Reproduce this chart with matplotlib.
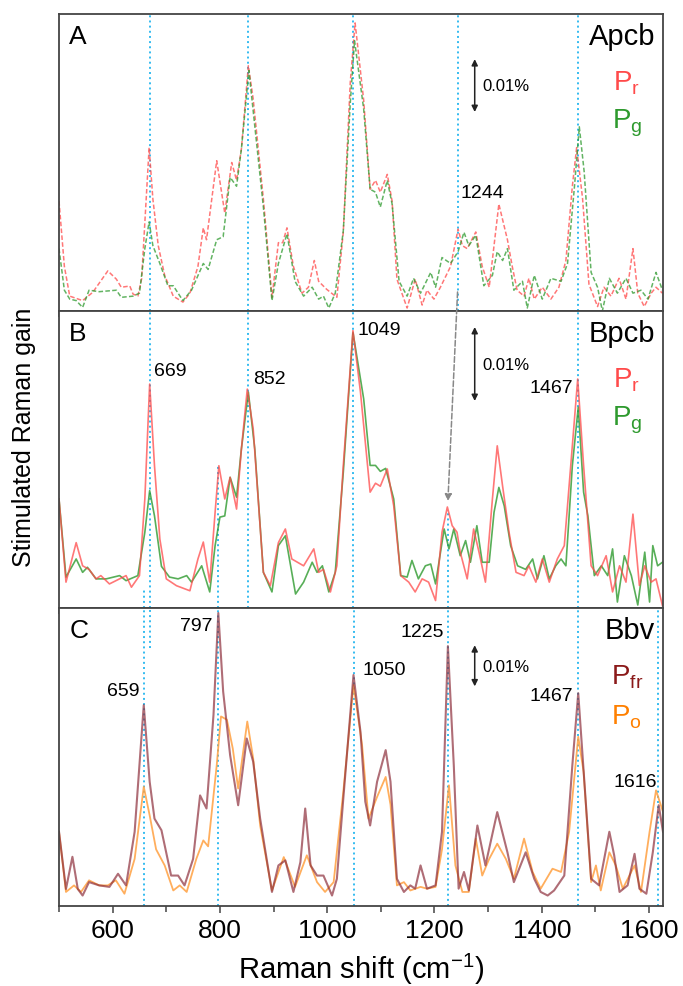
import matplotlib.pyplot as plt
from matplotlib.ticker import MultipleLocator

plt.rcParams['font.family'] = ['Liberation Sans', 'DejaVu Sans']
plt.rcParams['mathtext.fontset'] = 'custom'
plt.rcParams['mathtext.rm'] = 'Liberation Sans'
plt.rcParams['mathtext.it'] = 'Liberation Sans'

# ---- panel A (Apcb), dashed ----
a_pr_x = [500, 510, 520, 544, 563, 591, 607, 616, 632, 638, 647, 654, 668, 675, 685, 697, 713,
          731, 744, 759, 769, 775, 794, 809, 822, 831, 840, 853, 862, 881, 897, 909, 917, 925,
          937, 953, 965, 976, 984, 999, 1018, 1030, 1043, 1052, 1068, 1080, 1090, 1099, 1112,
          1121, 1130, 1149, 1164, 1177, 1186, 1199, 1211, 1230, 1244, 1252, 1261, 1277, 1289,
          1302, 1320, 1336, 1345, 1354, 1367, 1376, 1386, 1401, 1417, 1432, 1445, 1457, 1465,
          1476, 1488, 1504, 1516, 1529, 1544, 1557, 1570, 1579, 1591, 1604, 1613, 1625]
a_pr_y = [0.37, 0.15, 0.05, 0.035, 0.063, 0.135, 0.107, 0.08, 0.084, 0.057, 0.05, 0.108, 0.55,
          0.377, 0.22, 0.12, 0.05, 0.03, 0.06, 0.15, 0.28, 0.24, 0.506, 0.33, 0.50, 0.44, 0.545,
          0.826, 0.714, 0.377, 0.046, 0.23, 0.23, 0.28, 0.15, 0.06, 0.08, 0.17, 0.10, 0.073,
          0.046, 0.266, 0.77, 0.97, 0.71, 0.41, 0.44, 0.40, 0.46, 0.37, 0.107, 0.01, 0.107, 0.02,
          0.07, 0.04, 0.08, 0.15, 0.276, 0.22, 0.21, 0.266, 0.15, 0.08, 0.36, 0.24, 0.15, 0.07,
          0.05, 0.11, 0.04, 0.08, 0.04, 0.08, 0.17, 0.42, 0.55, 0.38, 0.09, 0.015, 0.08, 0.05,
          0.11, 0.04, 0.21, 0.06, 0.015, 0.06, 0.08, 0.06]
a_pg_x = [500, 510, 520, 532, 544, 556, 575, 607, 616, 638, 650, 660, 668, 675, 688, 703, 713,
          722, 731, 747, 769, 778, 794, 806, 819, 831, 840, 854, 881, 897, 909, 925, 940, 956,
          972, 984, 993, 1003, 1015, 1030, 1043, 1051, 1068, 1080, 1090, 1099, 1112, 1121, 1134,
          1149, 1161, 1174, 1193, 1202, 1214, 1230, 1244, 1255, 1264, 1277, 1292, 1308, 1317,
          1327, 1336, 1348, 1364, 1373, 1386, 1401, 1417, 1436, 1448, 1461, 1470, 1479, 1492,
          1504, 1513, 1526, 1541, 1557, 1570, 1585, 1598, 1613, 1625]
a_pg_y = [0.21, 0.07, 0.04, 0.035, 0.012, 0.07, 0.065, 0.07, 0.046, 0.05, 0.06, 0.21, 0.30, 0.22,
          0.16, 0.085, 0.085, 0.06, 0.035, 0.07, 0.16, 0.14, 0.24, 0.25, 0.45, 0.42, 0.545, 0.81,
          0.35, 0.035, 0.16, 0.26, 0.10, 0.05, 0.08, 0.04, 0.05, 0.01, 0.06, 0.27, 0.70, 0.91,
          0.68, 0.41, 0.40, 0.35, 0.44, 0.36, 0.10, 0.05, 0.11, 0.06, 0.13, 0.08, 0.18, 0.16,
          0.20, 0.265, 0.22, 0.255, 0.085, 0.12, 0.20, 0.17, 0.21, 0.07, 0.10, 0.01, 0.12, 0.04,
          0.11, 0.10, 0.16, 0.42, 0.62, 0.47, 0.13, 0.08, 0.0, 0.11, 0.06, 0.11, 0.06, 0.07, 0.04,
          0.13, 0.07]

# ---- panel B (Bpcb), solid ----
b_pr_x = [500, 513, 532, 544, 556, 569, 578, 594, 625, 635, 650, 660, 669, 678, 688, 700, 719,
          744, 759, 769, 781, 791, 798, 809, 819, 831, 840, 851, 862, 881, 894, 909, 922, 934,
          956, 975, 984, 993, 1006, 1018, 1030, 1048, 1062, 1080, 1090, 1099, 1112, 1124, 1137,
          1152, 1164, 1177, 1189, 1202, 1214, 1224, 1233, 1242, 1248, 1261, 1273, 1283, 1295,
          1308, 1317, 1327, 1339, 1352, 1367, 1376, 1389, 1401, 1414, 1429, 1442, 1454, 1467,
          1478, 1492, 1504, 1520, 1532, 1545, 1557, 1570, 1582, 1592, 1604, 1613, 1625]
b_pr_y = [0.367, 0.087, 0.22, 0.142, 0.13, 0.098, 0.109, 0.081, 0.109, 0.07, 0.109, 0.367, 0.754,
          0.479, 0.232, 0.098, 0.075, 0.058, 0.165, 0.222, 0.087, 0.322, 0.479, 0.367, 0.44,
          0.333, 0.535, 0.737, 0.603, 0.12, 0.075, 0.22, 0.266, 0.165, 0.142, 0.199, 0.12, 0.13,
          0.054, 0.142, 0.48, 0.934, 0.727, 0.39, 0.42, 0.41, 0.468, 0.344, 0.109, 0.087, 0.054,
          0.098, 0.087, 0.025, 0.255, 0.34, 0.277, 0.255, 0.188, 0.098, 0.266, 0.188, 0.087,
          0.367, 0.546, 0.41, 0.255, 0.12, 0.109, 0.142, 0.087, 0.165, 0.087, 0.165, 0.21, 0.479,
          0.771, 0.479, 0.142, 0.109, 0.176, 0.054, 0.142, 0.087, 0.316, 0.076, 0.142, 0.087,
          0.098, 0.008]
b_pg_x = [500, 513, 532, 544, 553, 569, 588, 613, 625, 647, 660, 669, 678, 691, 706, 722, 738,
          747, 766, 781, 791, 800, 809, 819, 831, 840, 853, 865, 881, 897, 909, 922, 941, 956,
          972, 981, 991, 1003, 1015, 1030, 1048, 1068, 1080, 1090, 1099, 1109, 1124, 1137, 1149,
          1158, 1170, 1183, 1193, 1202, 1218, 1227, 1236, 1248, 1258, 1267, 1279, 1289, 1302,
          1311, 1320, 1330, 1342, 1355, 1370, 1383, 1392, 1404, 1414, 1426, 1436, 1445, 1457,
          1468, 1478, 1486, 1498, 1511, 1523, 1532, 1541, 1554, 1567, 1579, 1592, 1601, 1607,
          1616, 1625]
b_pg_y = [0.367, 0.104, 0.165, 0.12, 0.137, 0.098, 0.098, 0.109, 0.092, 0.109, 0.255, 0.395,
          0.31, 0.14, 0.104, 0.098, 0.109, 0.087, 0.142, 0.054, 0.21, 0.306, 0.31, 0.44, 0.373,
          0.535, 0.727, 0.535, 0.12, 0.054, 0.21, 0.243, 0.047, 0.087, 0.154, 0.12, 0.142, 0.054,
          0.12, 0.457, 0.928, 0.704, 0.48, 0.48, 0.46, 0.47, 0.367, 0.109, 0.104, 0.16, 0.098,
          0.142, 0.148, 0.081, 0.266, 0.199, 0.266, 0.176, 0.227, 0.154, 0.277, 0.154, 0.154,
          0.322, 0.406, 0.344, 0.21, 0.142, 0.13, 0.165, 0.098, 0.176, 0.098, 0.142, 0.165,
          0.142, 0.479, 0.676, 0.39, 0.31, 0.109, 0.142, 0.109, 0.199, 0.02, 0.176, 0.109, 0.01,
          0.188, 0.02, 0.21, 0.142, 0.154]

# ---- panel C (Bbv), solid ----
c_pfr_x = [500, 513, 525, 535, 544, 556, 575, 594, 610, 625, 641, 658, 669, 678, 691, 709, 722,
           734, 750, 763, 775, 788, 797, 806, 819, 834, 850, 862, 875, 897, 909, 922, 937, 950,
           959, 969, 981, 993, 1009, 1018, 1030, 1049, 1062, 1071, 1080, 1093, 1109, 1118, 1130,
           1143, 1155, 1164, 1174, 1186, 1202, 1214, 1225, 1236, 1245, 1255, 1264, 1280, 1295,
           1317, 1336, 1348, 1370, 1386, 1398, 1411, 1423, 1442, 1457, 1468, 1479, 1492, 1507,
           1526, 1535, 1545, 1560, 1573, 1582, 1595, 1607, 1618, 1626]
c_pfr_y = [0.249, 0.057, 0.165, 0.057, 0.035, 0.08, 0.069, 0.064, 0.108, 0.069, 0.249, 0.674,
           0.417, 0.293, 0.254, 0.102, 0.102, 0.069, 0.158, 0.371, 0.327, 0.641, 0.983, 0.72,
           0.506, 0.338, 0.562, 0.484, 0.293, 0.047, 0.136, 0.153, 0.047, 0.147, 0.327, 0.136,
           0.102, 0.102, 0.035, 0.091, 0.36, 0.775, 0.585, 0.35, 0.27, 0.417, 0.523, 0.417,
           0.091, 0.047, 0.069, 0.058, 0.136, 0.058, 0.069, 0.249, 0.872, 0.472, 0.058, 0.114,
           0.052, 0.27, 0.136, 0.315, 0.18, 0.08, 0.18, 0.091, 0.047, 0.035, 0.052, 0.102, 0.472,
           0.714, 0.428, 0.091, 0.069, 0.249, 0.17, 0.047, 0.069, 0.175, 0.058, 0.041, 0.18,
           0.338, 0.249]
c_po_x = [500, 513, 528, 541, 556, 575, 591, 606, 622, 641, 658, 669, 681, 697, 713, 725, 738,
          756, 769, 778, 794, 802, 813, 824, 834, 851, 862, 875, 897, 919, 940, 962, 981, 996,
          1012, 1030, 1049, 1065, 1077, 1093, 1109, 1118, 1130, 1143, 1155, 1174, 1186, 1202,
          1214, 1227, 1239, 1252, 1264, 1277, 1289, 1302, 1317, 1333, 1348, 1367, 1383, 1398,
          1420, 1436, 1451, 1468, 1478, 1492, 1501, 1510, 1526, 1538, 1551, 1573, 1585, 1601,
          1613, 1626]
c_po_y = [0.249, 0.047, 0.069, 0.047, 0.086, 0.069, 0.069, 0.086, 0.041, 0.158, 0.40, 0.304,
          0.19, 0.136, 0.052, 0.069, 0.047, 0.158, 0.22, 0.20, 0.472, 0.636, 0.625, 0.528, 0.394,
          0.619, 0.495, 0.27, 0.052, 0.164, 0.064, 0.17, 0.08, 0.047, 0.08, 0.383, 0.742, 0.54,
          0.293, 0.366, 0.433, 0.34, 0.069, 0.08, 0.052, 0.064, 0.058, 0.064, 0.19, 0.405, 0.136,
          0.047, 0.047, 0.226, 0.102, 0.158, 0.209, 0.158, 0.091, 0.226, 0.114, 0.058, 0.125,
          0.114, 0.249, 0.568, 0.45, 0.08, 0.136, 0.052, 0.18, 0.136, 0.058, 0.136, 0.047, 0.249,
          0.388, 0.316]

# peak marker lines and labels
a_lines = [669, 852, 1049, 1244, 1467]
b_lines = [669, 852, 1049, 1467]
c_lines = [659, 797, 1050, 1225, 1467, 1616]
b_labels = [('669', 678, 0.80, 'left'), ('852', 862, 0.774, 'left'),
            ('1049', 1056, 0.936, 'left'), ('1467', 1458, 0.744, 'right')]
c_labels = [('659', 650, 0.724, 'right'), ('797', 787, 0.94, 'right'),
            ('1050', 1065, 0.795, 'left'), ('1225', 1217, 0.92, 'right'),
            ('1467', 1458, 0.707, 'right'), ('1616', 1533, 0.417, 'left')]

blue = '#33bbf0'
red = '#ff4a4a'
green = '#2e9a2e'
maroon = '#8e2f3c'
orange = '#ffa040'

fig = plt.figure(figsize=(6.83, 9.87), dpi=100)
L, W, H = 0.0864, 0.8843, 0.3009
axA = fig.add_axes([L, 0.6839, W, H])
axB = fig.add_axes([L, 0.3830, W, H])
axC = fig.add_axes([L, 0.0811, W, 0.3019])

for ax in (axA, axB, axC):
    ax.set_xlim(500, 1626)
    ax.set_ylim(0, 1)
    ax.set_yticks([])
    ax.xaxis.set_major_locator(MultipleLocator(200))
    ax.xaxis.set_minor_locator(MultipleLocator(100))
    ax.tick_params(axis='x', which='major', direction='out', length=5, width=1.1,
                   color='#444444', labelsize=19, pad=4)
    ax.tick_params(axis='x', which='minor', direction='out', length=4, width=1.1,
                   color='#444444')
    for s in ax.spines.values():
        s.set_color('#444444')
        s.set_linewidth(1.3)
axA.tick_params(labelbottom=False)
axB.tick_params(labelbottom=False)

# vertical dotted lines
for v in a_lines:
    axA.axvline(v, color=blue, ls=':', lw=1.4, zorder=1)
for v in b_lines:
    axB.axvline(v, color=blue, ls=':', lw=1.4, zorder=1)
axB.axvline(1225, 0, 0.33, color=blue, ls=':', lw=1.4, zorder=1)
axB.axvline(797, 0, 0.48, color=blue, ls=':', lw=1.4, zorder=1)
axB.axvline(659, 0, 0.065, color=blue, ls=':', lw=1.4, zorder=1)
for v in c_lines:
    axC.axvline(v, color=blue, ls=':', lw=1.4, zorder=1)
axC.axvline(669, 0.865, 1, color=blue, ls=':', lw=1.4, zorder=1)

# spectra
axA.plot(a_pr_x, a_pr_y, color=red, lw=1.1, alpha=0.75, dashes=(3, 1.5))
axA.plot(a_pg_x, a_pg_y, color=green, lw=1.1, alpha=0.75, dashes=(3, 1.5))
axB.plot(b_pg_x, b_pg_y, color=green, lw=1.2, alpha=0.8)
axB.plot(b_pr_x, b_pr_y, color=red, lw=1.2, alpha=0.75)
axC.plot(c_po_x, c_po_y, color=orange, lw=1.3, alpha=0.85)
axC.plot(c_pfr_x, c_pfr_y, color=maroon, lw=1.5, alpha=0.7)

# panel letters and names
for ax, letter, name, c1, c2, s1, s2 in [
        (axA, 'A', 'Apcb', red, green, 'r', 'g'),
        (axB, 'B', 'Bpcb', red, green, 'r', 'g'),
        (axC, 'C', 'Bbv', '#8b1a1a', '#ff8000', 'fr', 'o')]:
    ax.text(0.017, 0.925, letter, transform=ax.transAxes, fontsize=19, va='center', ha='left')
    ax.text(0.987, 0.925, name, transform=ax.transAxes, fontsize=21, va='center', ha='right')
    ax.text(0.94, 0.77, r'$\mathregular{P_{%s}}$' % s1, transform=ax.transAxes,
            fontsize=20, color=c1, va='center', ha='center')
    ax.text(0.94, 0.635, r'$\mathregular{P_{%s}}$' % s2, transform=ax.transAxes,
            fontsize=20, color=c2, va='center', ha='center')

# 0.01% scale arrows
for ax, y0, y1, ty in [(axA, 0.67, 0.848, 0.758), (axB, 0.697, 0.946, 0.82),
                       (axC, 0.737, 0.875, 0.805)]:
    ax.annotate('', xy=(1275, y1), xytext=(1275, y0),
                arrowprops=dict(arrowstyle='<|-|>', color='#222222', lw=1.1,
                                mutation_scale=9, shrinkA=0, shrinkB=0))
    ax.text(1290, ty, '0.01%', fontsize=12, va='center', ha='left')

# peak labels
axA.text(1249, 0.40, '1244', fontsize=14, va='center', ha='left')
for t, x, y, ha in b_labels:
    axB.text(x, y, t, fontsize=14, va='center', ha=ha)
for t, x, y, ha in c_labels:
    axC.text(x, y, t, fontsize=14, va='center', ha=ha)

# grey shift arrow 1244 -> 1225
axB.annotate('', xy=(1225, 0.36), xytext=(1243, 1.064), annotation_clip=False,
             arrowprops=dict(arrowstyle='-|>', color='#888888', lw=1.1, ls='--',
                             mutation_scale=10, shrinkA=0, shrinkB=0))

axC.set_xlabel('Raman shift (cm$^{-1}$)', fontsize=21, labelpad=6)
fig.text(0.035, 0.557, 'Stimulated Raman gain', rotation=90, fontsize=18,
         va='center', ha='center')

fig.savefig('out.png', dpi=100)
